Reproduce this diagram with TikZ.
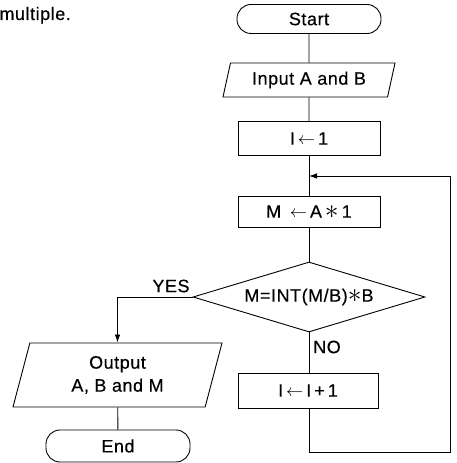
\documentclass[tikz,border=0pt]{standalone}
\usepackage{fontspec}
\setmainfont[LetterSpace=3,FakeBold=0.4]{Liberation Sans}
\usetikzlibrary{arrows.meta,shapes.geometric}
\newcommand{\chartfont}{\fontsize{18bp}{23bp}\selectfont}
\tikzset{
  >={Latex[length=8bp,width=5.5bp]},
  every path/.style={line width=0.9bp},
  term/.style={draw, rounded corners=14bp, minimum width=144bp,
              minimum height=29bp, inner sep=0pt, font=\chartfont},
  io/.style={draw, trapezium, trapezium left angle=66, trapezium right angle=114,
              trapezium stretches body, inner sep=0pt, align=center, font=\chartfont},
  proc/.style={draw, minimum width=142bp, minimum height=34bp,
              inner sep=0pt, font=\chartfont},
  dec/.style={draw, diamond, aspect=3.4, minimum width=232bp,
              minimum height=70bp, inner sep=0pt, font=\chartfont},
  lbl/.style={font=\chartfont, inner sep=0pt},
}
\newcommand{\mult}{\raisebox{-1bp}{\scalebox{1.6}{$\ast$}}}
\newcommand{\assign}{\,$\leftarrow$\,}

\begin{document}
\begin{tikzpicture}[x=1bp,y=-1bp]
  \useasboundingbox (0,0) rectangle (457,463);
  % text cut from the page above
  \node[lbl,anchor=base west] (cut) at (-1,20) {multiple.};
  % main column
  \node[term] (start) at (309,19) {Start};
  \node[io,minimum width=172bp,minimum height=34bp] (input) at (309,80) {Input A and B};
  \node[proc] (init) at (309,138.5) {I\assign 1};
  \coordinate (join) at (309,176);
  \node[proc,minimum height=31bp] (mult) at (309,212) {M~\assign A\,\mult\,1};
  \node[dec] (test) at (309,297) {M=INT(M/B)\mult B};
  \node[proc,minimum height=35bp,minimum width=140bp] (step) at (308,390.5) {I\assign I\,+\,1};
  % yes branch
  \node[io,minimum width=209bp,minimum height=64bp] (out) at (117.5,375) {Output\\A, B and M};
  \node[term,minimum height=32bp] (stop) at (118,446) {End};
  \node[lbl] (yes) at (171,286) {YES};
  \node[lbl] (no) at (327,347) {NO};
  \coordinate (back) at (450,452);
  % connectors
  \draw (start) -- (input);
  \draw (input) -- (init);
  \draw (init) -- (mult);
  \draw (mult) -- (test);
  \draw (test) -- (test.south |- step.north);
  \draw[->] (test.west) -| (out.north);
  \draw (out) -- (stop);
  \draw[->] (step.south -| test.south) |- (back) |- (join);
\end{tikzpicture}
\end{document}
